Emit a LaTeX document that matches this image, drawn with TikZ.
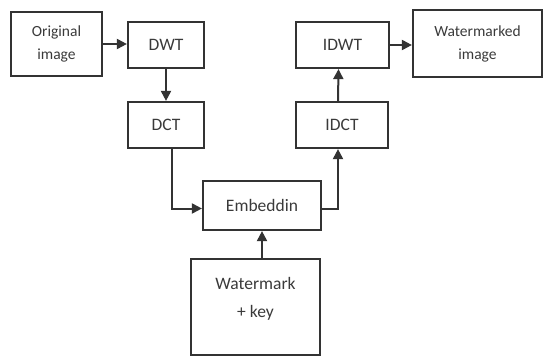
\documentclass[tikz,border=0pt]{standalone}
\usepackage{fontspec}
\setmainfont{Carlito}
\usetikzlibrary{arrows.meta}
\definecolor{ln}{HTML}{333333}
\definecolor{tx}{HTML}{3a3a3a}
\begin{document}
\begin{tikzpicture}[x=1pt,y=-1pt,
  box/.style={draw=ln,line width=2.2pt,minimum width=#1,inner sep=0pt,text=tx,align=center,font=\fontsize{17.5}{20}\selectfont},
  lbl/.style={text=tx,align=center,inner sep=0pt,font=\fontsize{17.5}{20}\selectfont},
  arr/.style={draw=ln,line width=2pt,-{Triangle[length=10pt,width=10pt]}}]
\useasboundingbox (0,0) rectangle (545,358);
\node[box=91pt,minimum height=64pt,font=\fontsize{15.5}{18}\selectfont] (orig) at (56.5,44) {Original\\[5pt]image};
\node[box=76pt,minimum height=46pt] (dwt) at (166,45) {DWT};
\node[box=76pt,minimum height=46pt] (dct) at (166,125) {DCT};
\node[box=93pt,minimum height=46pt] (idwt) at (342.5,45) {IDWT};
\node[box=92pt,minimum height=46pt] (idct) at (342,125) {IDCT};
\node[box=129pt,minimum height=67pt,font=\fontsize{15.5}{18}\selectfont] (wimg) at (477.5,43.5) {Watermarked\\[5pt]image};
\node[box=118pt,minimum height=49pt] (emb) at (262,205.5) {Embeddin};
\node[box=129pt,minimum height=96pt] (wk) at (255.5,307) {};
\node[lbl] (wkt) at (255.5,299) {Watermark\\[8pt]+ key};
\draw[arr] (orig.east) -- (orig.east -| dwt.west);
\draw[arr] (dwt) -- (dct);
\draw[arr] ([xshift=6pt]dct.south) |- ([yshift=-3pt]emb.west);
\draw[arr] ([yshift=-3pt]emb.east) -| ([xshift=-4pt]idct.south);
\draw[arr] ([xshift=-4pt]idct.north) -- ([xshift=-4pt]idwt.south);
\draw[arr] (idwt.east) -- (idwt.east -| wimg.west);
\draw[arr] (wk.north -| emb.south) -- (emb.south);
\end{tikzpicture}
\end{document}
